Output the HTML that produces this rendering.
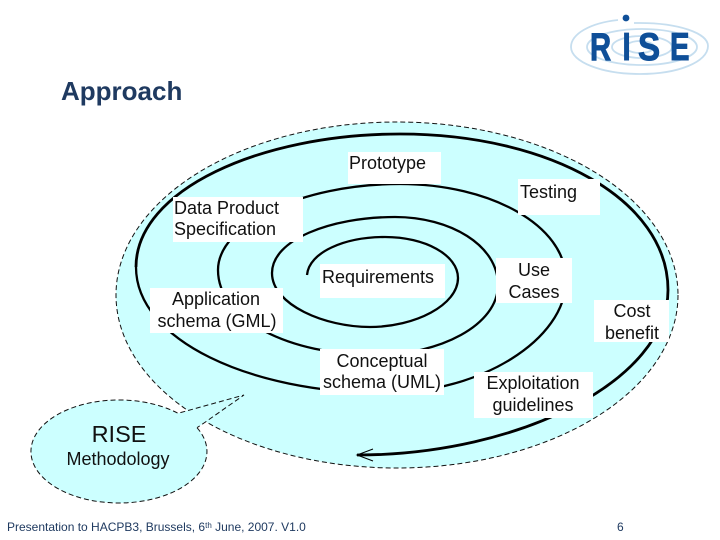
<!DOCTYPE html>
<html>
<head>
<meta charset="utf-8">
<style>
html,body{margin:0;padding:0;background:#fff;width:720px;height:540px;overflow:hidden}
svg{display:block}
text{font-family:"Liberation Sans",sans-serif;fill:#111}
.l{font-size:18px}
.m{text-anchor:middle}
.g{font-size:39px;font-weight:bold;fill:#0f4f98;stroke:#0f4f98;stroke-width:1}
</style>
</head>
<body>
<svg width="720" height="540" viewBox="0 0 720 540" xmlns="http://www.w3.org/2000/svg">
<!-- logo -->
<g fill="none" stroke="#c6deef" stroke-width="1.8">
<path d="M618 20 C590 23 571 34 571 47 C571 62 602 74 640 74 C678 74 708 62 708 46 C708 33 678 23 640 23 C638 23 636 23 634 23"/>
<ellipse cx="642" cy="47" rx="55" ry="18"/>
<ellipse cx="642" cy="47" rx="30" ry="11"/>
<ellipse cx="640" cy="47" rx="14" ry="6"/>
</g>
<circle cx="626" cy="18" r="3.4" fill="#0f4f98"/>
<text class="g" transform="translate(590 60) scale(.75 1)" x="0" y="0">R</text>
<text class="g" transform="translate(622.5 60) scale(.75 1)" x="0" y="0">I</text>
<text class="g" transform="translate(638 60) scale(.85 1)" x="0" y="0">S</text>
<text class="g" transform="translate(670 60) scale(.75 1)" x="0" y="0">E</text>

<text x="61" y="100" style="font-size:26px;font-weight:bold;fill:#1f3a60">Approach</text>

<!-- big ellipse -->
<ellipse cx="397" cy="295" rx="281" ry="173" fill="#ccffff" stroke="#111" stroke-width="1" stroke-dasharray="5 3"/>
<!-- bubble -->
<path d="M197 427.7 A88 51.5 0 1 1 178 413.3 L244 395 L204 423 Z" fill="#ccffff" stroke="none"/>
<path d="M197 427.7 A88 51.5 0 1 1 178 413.3 L244 395 L204 423 L197 427.7" fill="none" stroke="#111" stroke-width="1" stroke-dasharray="5 3"/>

<!-- spiral -->
<path d="M307 275 C309 252 345 237 385 237 C425 237 458 255 458 278 C458 305 415 327 370 327 C325 327 272 305 272 273 C272 240 330 217 395 217 C450 217 498 245 498 285 C498 325 440 355 375 355 C290 355 218 320 218 270 C218 225 300 184 400 184 C490 184 566 225 566 280 C566 340 480 393 385 393 C250 393 136 340 136 267" fill="none" stroke="#000" stroke-width="2.3"/>
<path d="M136 267 C136 190 260 134 400 134 C550 134 668 200 668 290 C668 380 520 455 357 455" fill="none" stroke="#000" stroke-width="2.8"/>
<path d="M373 449 L357 455 L373 461" fill="none" stroke="#000" stroke-width="1"/>

<!-- label boxes -->
<g fill="#fff">
<rect x="348" y="152" width="93" height="32"/>
<rect x="518" y="179" width="82" height="36"/>
<rect x="173" y="197" width="130" height="45"/>
<rect x="150" y="288" width="133" height="45"/>
<rect x="320" y="264" width="125" height="34"/>
<rect x="496" y="258" width="76" height="45"/>
<rect x="594" y="300" width="75" height="42"/>
<rect x="320" y="349" width="124" height="46"/>
<rect x="474" y="372" width="119" height="46"/>
</g>

<text class="l" x="349" y="169">Prototype</text>
<text class="l" x="520" y="198">Testing</text>
<text class="l" x="174" y="214">Data Product</text>
<text class="l" x="174" y="235">Specification</text>
<text class="l m" x="216" y="305">Application</text>
<text class="l m" x="217" y="327">schema (GML)</text>
<text class="l" x="322" y="283">Requirements</text>
<text class="l m" x="534" y="276">Use</text>
<text class="l m" x="534" y="298">Cases</text>
<text class="l m" x="632" y="317">Cost</text>
<text class="l m" x="632" y="339">benefit</text>
<text class="l m" x="382" y="367">Conceptual</text>
<text class="l m" x="382" y="388">schema (UML)</text>
<text class="l m" x="533" y="389">Exploitation</text>
<text class="l m" x="533" y="411">guidelines</text>
<text class="m" x="119" y="442" style="font-size:23.5px">RISE</text>
<text class="l m" x="118" y="465">Methodology</text>

<text x="7" y="531" style="font-size:12px;fill:#1f3a60">Presentation to HACPB3, Brussels, 6<tspan dy="-3" style="font-size:8px">th</tspan><tspan dy="3"> June, 2007. V1.0</tspan></text>
<text x="617" y="531" style="font-size:12px;fill:#1f3a60">6</text>
</svg>
</body>
</html>
